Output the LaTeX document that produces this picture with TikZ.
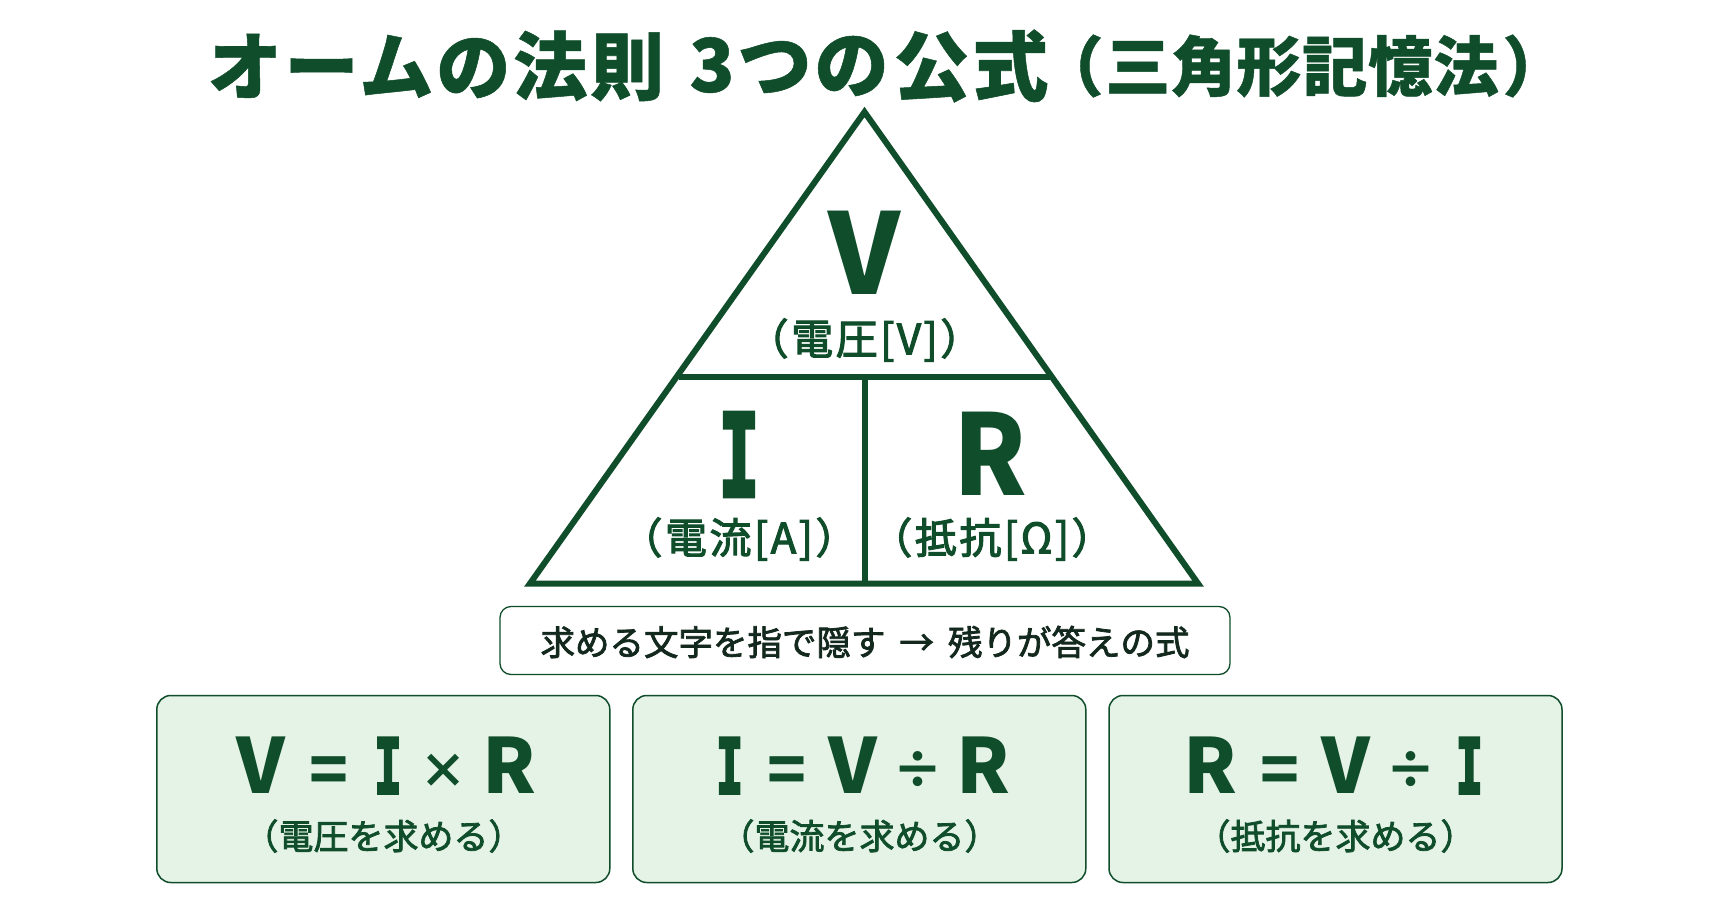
\documentclass[tikz,border=0pt]{standalone}
\usepackage{fontspec}
\setmainfont{Noto Sans CJK JP}
\newfontfamily\mono[BoldFeatures={FakeBold=4}]{DejaVu Sans Mono}
\newfontfamily\ttl[FakeBold=0.7,LetterSpace=4]{Noto Sans CJK JP}
\newfontfamily\ttlb[FakeBold=0.7,LetterSpace=1]{Noto Sans CJK JP}
\newfontfamily\med[FakeBold=2.2]{Noto Sans CJK JP}
\newfontfamily\medls[FakeBold=2.6,LetterSpace=6]{Noto Sans CJK JP}
\definecolor{dg}{HTML}{0F4D2B}
\definecolor{lg}{HTML}{E5F3E7}
\definecolor{tipc}{HTML}{14291E}
\newcommand{\slabI}[1]{{\scalebox{#1}[1]{\mono\bfseries I}}}
\newcommand{\opr}[2]{{\fontsize{#1}{#1}\selectfont #2}}
\tikzset{
 lbl/.style={text=dg,inner sep=0pt,font=\fontsize{#1}{#1}\selectfont\med},
 lbltri/.style={text=dg,inner sep=0pt,font=\fontsize{#1}{#1}\selectfont\medls},
 big/.style={text=dg,inner sep=0pt,font=\fontsize{#1}{#1}\selectfont\bfseries},
 ttlpart/.style={text=dg,inner sep=0pt,font=\fontsize{#1}{#1}\selectfont\ttl\bfseries},
 ttlpartb/.style={text=dg,inner sep=0pt,font=\fontsize{#1}{#1}\selectfont\ttlb\bfseries},
 formula/.style={draw=dg,fill=lg,line width=1.5pt,rounded corners=14pt},
 tipbox/.style={draw=dg,fill=white,line width=1.3pt,rounded corners=11pt},
 tri/.style={draw=dg,line width=6pt,miter limit=10},
}
\begin{document}
\begin{tikzpicture}[x=1pt,y=-1pt]
\useasboundingbox[fill=white] (0,0) rectangle (1729,910);
\node[ttlpart=74] (t1) at (436,66) {オームの法則};
\node[ttlpart=74] (t2) at (789,66) {3つの};
\node[ttlpart=76] (t3) at (971,66) {公式};
\node[ttlpartb=65] (t4) at (1071,66) {（};
\node[ttlpartb=65] (t5) at (1302,66) {三角形記憶法};
\node[ttlpartb=65] (t6) at (1535,66) {）};
\coordinate (apex) at (864.5,112);
\coordinate (bl) at (530,583.5);
\coordinate (br) at (1198,583.5);
\coordinate (ml) at (679,377);
\coordinate (mr) at (1050,377);
\coordinate (mb) at (864.5,583.5);
\draw[tri] (apex) -- (br) -- (bl) -- cycle;
\draw[tri,line cap=butt] (ml) -- (mr);
\draw[tri,line cap=butt] (864.5,377) -- (mb);
\node[big=112] (v) at (864,253) {V};
\node[lbltri=42] (vl) at (864.5,340) {（電圧[V]）};
\node[big=112] (i) at (739,454.5) {\fontsize{114}{114}\selectfont\slabI{0.6}};
\node[lbltri=42] (il) at (739,539) {（電流[A]）};
\node[big=112] (r) at (990,454) {\scalebox{0.93}[1]{R}};
\node[lbltri=42] (rl) at (992,539) {（抵抗[Ω]）};
\node[tipbox,minimum width=730pt,minimum height=68pt] (tip) at (865,640.5) {};
\node[text=tipc,inner sep=0pt,font=\fontsize{34.5}{34.5}\selectfont\med] (tipt) at (865,642) {求める文字を指で隠す\hspace{14pt}→\hspace{14pt}残りが答えの式};
\foreach \n/\cx in {a/383.3,b/859.3,c/1335.5}{
 \node[formula,minimum width=453pt,minimum height=187pt] (box\n) at (\cx,789) {};
}
\node[big=76] (fa) at (386.5,765) {V\hspace{24pt}\opr{64}{=}\hspace{26pt}\slabI{0.6}\hspace{18pt}\opr{48}{\raisebox{5pt}{×}}\hspace{15pt}R};
\node[big=76] (fb) at (863,765) {\slabI{0.6}\hspace{24pt}\opr{64}{=}\hspace{22pt}V\hspace{15pt}\opr{51}{\raisebox{5pt}{÷}}\hspace{13pt}R};
\node[big=76] (fc) at (1333.5,765) {R\hspace{23pt}\opr{64}{=}\hspace{22pt}V\hspace{15pt}\opr{51}{\raisebox{5pt}{÷}}\hspace{19pt}\slabI{0.6}};
\node[lbl=35] (sa) at (383.5,836) {（電圧を求める）};
\node[lbl=35] (sb) at (859.5,836) {（電流を求める）};
\node[lbl=35] (sc) at (1335.5,836) {（抵抗を求める）};
\end{tikzpicture}
\end{document}
